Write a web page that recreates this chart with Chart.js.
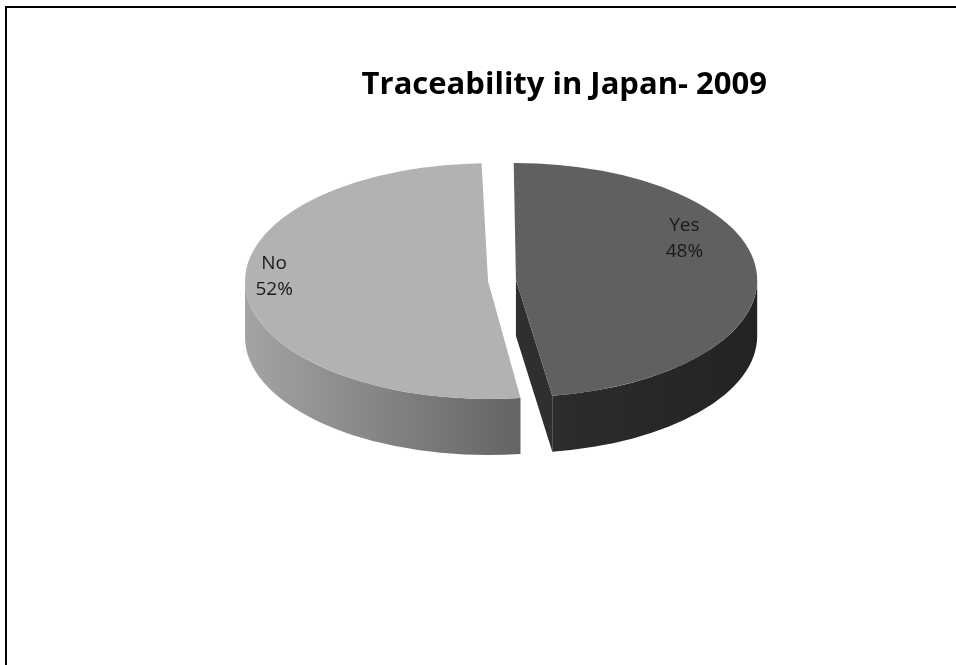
<!DOCTYPE html>
<html>
<head>
<meta charset="utf-8">
<title>Traceability in Japan- 2009</title>
<script src="https://cdn.jsdelivr.net/npm/chart.js@4.4.1/dist/chart.umd.min.js"></script>
<style>
    html, body { margin: 0; padding: 0; background: #fff; overflow: hidden; }
    #wrap { position: relative; width: 956px; height: 665px; }
    #frame {
        position: absolute; left: 5px; top: 6px; right: -10px; bottom: -10px;
        border-left: 2px solid #000; border-top: 2px solid #000;
    }
    #pieChart { position: absolute; left: 0; top: 0; }
</style>
</head>
<body>
<div id="wrap">
    <div id="frame"></div>
    <canvas id="pieChart" width="956" height="665"></canvas>
</div>
<script>
// Data
const categories = ['Yes', 'No'];
const shares = [48, 52];
const chartTitle = 'Traceability in Japan- 2009';

// Look of the tilted pie
const topColors = ['#606060', '#b2b2b2'];
const wallColors = [['#2c2c2c', '#232323'], ['#a4a4a4', '#646464']];
const cutColor = '#2f2f2f';
const TILT = 0.485;   // vertical squash of the disc
const DEPTH = 56;     // wall height, screen px
const labelSpots = [{ angle: -26.9, dist: 0.783 }, { angle: 182.6, dist: 0.881 }];

// same geometry the arc element uses when it draws itself (offset, radius fix, angle trim)
function sliceGeom(arc) {
    const o = (arc.options.offset || 0) / 4;
    const half = (arc.startAngle + arc.endAngle) / 2;
    const fix = 1 - Math.sin(Math.min(Math.PI, arc.circumference || 0));
    const ro = o * fix;
    const r = arc.outerRadius + ro;
    const alpha = arc.endAngle - arc.startAngle;
    const beta = Math.max(0.001, alpha * r - ro / Math.PI) / r;
    const trim = (alpha - beta) / 2;
    return {
        x: arc.x + Math.cos(half) * o,
        y: arc.y + Math.sin(half) * o,
        r: r,
        a1: arc.startAngle + trim,
        a2: arc.endAngle - trim
    };
}

const pie3d = {
    id: 'pie3d',
    beforeDatasetsDraw(chart) {
        const ctx = chart.ctx;
        const arcs = chart.getDatasetMeta(0).data;
        if (!arcs.length) return;
        const cy = arcs[0].y;
        const dp = DEPTH / TILT;

        ctx.save();
        ctx.translate(0, cy);
        ctx.scale(1, TILT);
        ctx.translate(0, -cy);

        const geoms = arcs.map(sliceGeom);

        // cut faces that turn towards the viewer
        geoms.forEach(g => {
            if (Math.cos(g.a2) > 0.001) {
                const ex = g.x + g.r * Math.cos(g.a2);
                const ey = g.y + g.r * Math.sin(g.a2);
                ctx.beginPath();
                ctx.moveTo(g.x, g.y);
                ctx.lineTo(ex, ey);
                ctx.lineTo(ex, ey + dp);
                ctx.lineTo(g.x, g.y + dp);
                ctx.closePath();
                ctx.fillStyle = cutColor;
                ctx.fill();
            }
        });

        // outer walls on the front half
        geoms.forEach((g, i) => {
            const lo = Math.max(g.a1, 0);
            const hi = Math.min(g.a2, Math.PI);
            if (hi <= lo) return;
            const xa = g.x + g.r * Math.cos(hi);
            const xb = g.x + g.r * Math.cos(lo);
            const grad = ctx.createLinearGradient(Math.min(xa, xb), 0, Math.max(xa, xb), 0);
            grad.addColorStop(0, wallColors[i][0]);
            grad.addColorStop(1, wallColors[i][1]);
            ctx.beginPath();
            ctx.arc(g.x, g.y, g.r, lo, hi, false);
            ctx.arc(g.x, g.y + dp, g.r, hi, lo, true);
            ctx.closePath();
            ctx.fillStyle = grad;
            ctx.fill();
        });
    },
    afterDatasetsDraw(chart) {
        const ctx = chart.ctx;
        ctx.restore();

        const arcs = chart.getDatasetMeta(0).data;
        if (!arcs.length) return;
        const cy = arcs[0].y;
        const total = shares.reduce((a, b) => a + b, 0);

        ctx.save();
        ctx.font = "19px 'Open Sans', sans-serif";
        ctx.fillStyle = '#1a1a1a';
        ctx.textAlign = 'center';
        ctx.textBaseline = 'middle';
        arcs.forEach((arc, i) => {
            const g = sliceGeom(arc);
            const t = labelSpots[i].angle * Math.PI / 180;
            const px = g.x + Math.cos(t) * g.r * labelSpots[i].dist;
            const py = cy + (g.y + Math.sin(t) * g.r * labelSpots[i].dist - cy) * TILT;
            const pct = Math.round(shares[i] / total * 100) + '%';
            ctx.fillText(categories[i], px, py - 13);
            ctx.fillText(pct, px, py + 13);
        });
        ctx.restore();
    }
};

document.addEventListener('DOMContentLoaded', function () {
    const ctx = document.getElementById('pieChart').getContext('2d');
    new Chart(ctx, {
        type: 'pie',
        data: {
            labels: categories,
            datasets: [{
                data: shares,
                backgroundColor: topColors,
                borderWidth: 0,
                offset: 56,
                clip: false
            }]
        },
        options: {
            responsive: false,
            animation: false,
            radius: 229,
            rotation: -1,
            layout: {
                padding: { left: 237, right: 189, top: 67, bottom: 218 }
            },
            plugins: {
                legend: { display: false },
                tooltip: { enabled: false },
                title: {
                    display: true,
                    text: chartTitle,
                    align: 'end',
                    color: '#000',
                    font: { family: "'Open Sans', sans-serif", size: 31, weight: 'bold', lineHeight: 1.2 },
                    padding: { top: 0, bottom: 10 }
                }
            }
        },
        plugins: [pie3d]
    });
});
</script>
</body>
</html>
